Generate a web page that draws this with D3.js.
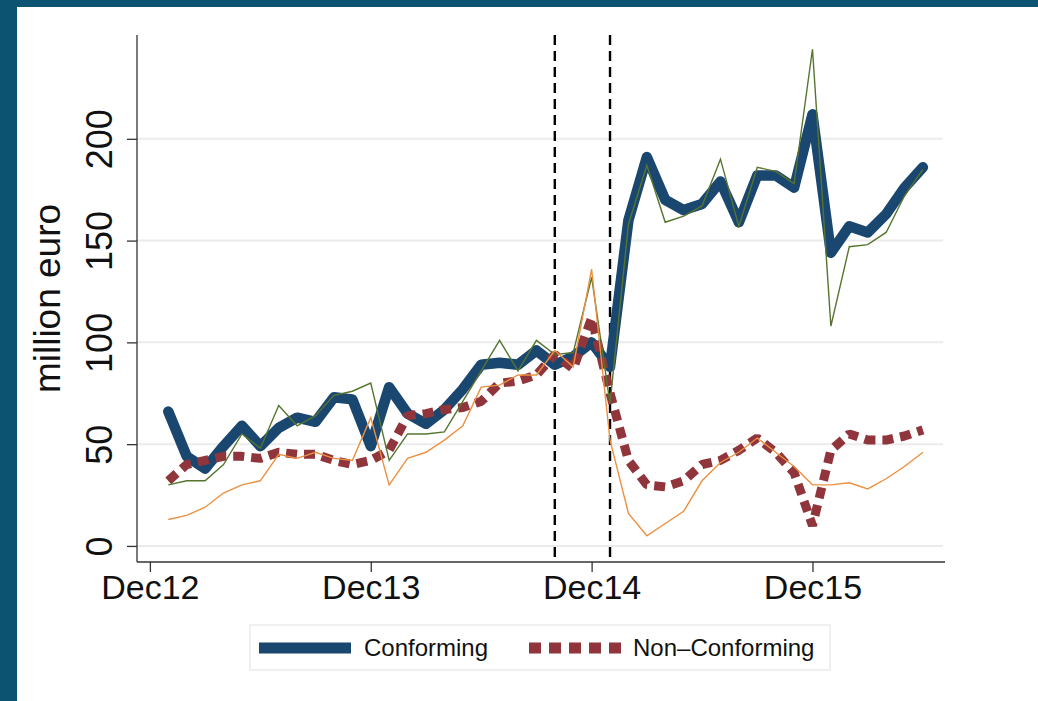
<!DOCTYPE html>
<html>
<head>
<meta charset="utf-8">
<script src="https://cdn.jsdelivr.net/npm/d3@7"></script>
<style>
  html, body { margin: 0; padding: 0; background: #0b5370; }
  svg { display: block; }
  text { font-family: "Liberation Sans", Arial, Helvetica, sans-serif; }
</style>
</head>
<body>
<script>
// Monthly observations, Jan 2013 – Jun 2016
const periods = [
  "2013-01","2013-02","2013-03","2013-04","2013-05","2013-06","2013-07","2013-08","2013-09","2013-10","2013-11","2013-12",
  "2014-01","2014-02","2014-03","2014-04","2014-05","2014-06","2014-07","2014-08","2014-09","2014-10","2014-11","2014-12",
  "2015-01","2015-02","2015-03","2015-04","2015-05","2015-06","2015-07","2015-08","2015-09","2015-10","2015-11","2015-12",
  "2016-01","2016-02","2016-03","2016-04","2016-05","2016-06"
];

// Smoothed series (million euro)
const conforming = [66,44,38,49,59,49,58,63,61,73,72,49,78,65,60,67,77,89,90,89,96,89,93,100,88,160,191,170,165,168,179,159,182,182,176,212,144,157,154,163,176,186];
const nonConforming = [32,40,42,44,44,43,46,45,45,42,40,42,47,64,65,67,68,71,80,81,84,94,87,112,75,42,30,29,32,40,42,47,53,46,36,10,47,55,52,52,54,57];

// Raw monthly series (million euro)
const conformingRaw = [30,32,32,40,55,48,69,59,64,74,76,80,42,55,55,56,71,86,101,86,101,94,95,132,70,158,187,159,162,167,190,157,186,184,178,244,108,147,148,154,172,185];
const nonConformingRaw = [13,15,19,26,30,32,45,43,46,43,42,63,30,43,46,52,59,78,79,84,84,96,88,136,52,16,5,11,17,32,41,46,53,46,39,30,30,31,28,33,39,46];

// Axis ticks and event markers
const xTickPeriods = ["2012-12","2013-12","2014-12","2015-12"];
const xTickLabels = ["Dec12","Dec13","Dec14","Dec15"];
const yTicks = [0, 50, 100, 150, 200];
const eventPeriods = ["2014-10","2015-01"];

const legendLabels = ["Conforming", "Non\u2013Conforming"];

// month index relative to Dec 2012
const monthIndex = p => {
  const [y, m] = p.split("-").map(Number);
  return (y - 2012) * 12 + (m - 12);
};

const W = 1038, H = 701;
const svg = d3.select("body").append("svg").attr("width", W).attr("height", H);

// frame
svg.append("rect").attr("x", 0).attr("y", 0).attr("width", W).attr("height", H).attr("fill", "#0b5370");
svg.append("rect").attr("x", 17).attr("y", 7).attr("width", W - 17).attr("height", H - 7).attr("fill", "#ffffff");

const plot = { left: 137, right: 945, top: 35, bottom: 562 };

const x = d3.scaleLinear().domain([-0.7, 43.2]).range([plot.left, plot.right]);
const y = d3.scaleLinear().domain([-7.9, 251]).range([plot.bottom, plot.top]);

// gridlines
svg.append("g").selectAll("line").data(yTicks).join("line")
  .attr("x1", plot.left).attr("x2", plot.right - 2)
  .attr("y1", d => y(d)).attr("y2", d => y(d))
  .attr("stroke", "#ebebeb").attr("stroke-width", 2);

// y axis
const yAxis = svg.append("g").attr("transform", `translate(${plot.left},0)`)
  .call(d3.axisLeft(y).tickValues(yTicks).tickSize(10).tickSizeOuter(0).tickPadding(0));
yAxis.select(".domain").attr("stroke", "#333").attr("stroke-width", 1.3)
  .attr("d", `M0,${plot.top}V${plot.bottom}`);
yAxis.selectAll(".tick line").attr("stroke", "#333").attr("stroke-width", 1.3);
yAxis.selectAll(".tick text")
  .attr("font-size", 36).attr("fill", "#111")
  .attr("text-anchor", "middle")
  .attr("x", null).attr("dy", null)
  .attr("transform", "translate(-25,0) rotate(-90)");

// x axis
const xAxis = svg.append("g").attr("transform", `translate(0,${plot.bottom})`)
  .call(d3.axisBottom(x).tickValues(xTickPeriods.map(monthIndex))
    .tickFormat((d, i) => xTickLabels[i]).tickSize(10).tickSizeOuter(0).tickPadding(0));
xAxis.select(".domain").attr("stroke", "#333").attr("stroke-width", 1.3)
  .attr("d", `M${plot.left},0H${plot.right}`);
xAxis.selectAll(".tick line").attr("stroke", "#333").attr("stroke-width", 1.3);
xAxis.selectAll(".tick text").attr("font-size", 34).attr("fill", "#111").attr("dy", "0.8em");

// y title
svg.append("text")
  .attr("transform", `translate(60,${(plot.top + plot.bottom) / 2}) rotate(-90)`)
  .attr("text-anchor", "middle").attr("font-size", 37).attr("fill", "#111")
  .text("million euro");

// event markers
svg.append("g").selectAll("line").data(eventPeriods).join("line")
  .attr("x1", d => x(monthIndex(d))).attr("x2", d => x(monthIndex(d)))
  .attr("y1", plot.top).attr("y2", plot.bottom)
  .attr("stroke", "#000").attr("stroke-width", 2.4).attr("stroke-dasharray", "10,6");

const line = vals => d3.line()
  .x((d, i) => x(monthIndex(periods[i])))
  .y(d => y(d))(vals);

// thick smoothed series
svg.append("path").attr("d", line(conforming))
  .attr("fill", "none").attr("stroke", "#1a476f").attr("stroke-width", 10.5)
  .attr("stroke-linejoin", "round").attr("stroke-linecap", "round");
svg.append("path").attr("d", line(nonConforming))
  .attr("fill", "none").attr("stroke", "#90353b").attr("stroke-width", 9)
  .attr("stroke-dasharray", "11,7").attr("stroke-linejoin", "bevel");

// thin raw series
svg.append("path").attr("d", line(conformingRaw))
  .attr("fill", "none").attr("stroke", "#55752f").attr("stroke-width", 1.4)
  .attr("stroke-linejoin", "miter");
svg.append("path").attr("d", line(nonConformingRaw))
  .attr("fill", "none").attr("stroke", "#ec9040").attr("stroke-width", 1.4)
  .attr("stroke-linejoin", "miter");

// legend
const lg = svg.append("g");
lg.append("rect").attr("x", 250).attr("y", 625).attr("width", 580).attr("height", 45)
  .attr("fill", "#fff").attr("stroke", "#e6e6e6").attr("stroke-width", 1.2);
lg.append("line").attr("x1", 259).attr("x2", 351).attr("y1", 648).attr("y2", 648)
  .attr("stroke", "#1a476f").attr("stroke-width", 11);
lg.append("text").attr("x", 364).attr("y", 656).attr("font-size", 24).attr("fill", "#111")
  .text(legendLabels[0]);
lg.append("line").attr("x1", 529).attr("x2", 621).attr("y1", 648).attr("y2", 648)
  .attr("stroke", "#90353b").attr("stroke-width", 11).attr("stroke-dasharray", "12,8");
lg.append("text").attr("x", 633).attr("y", 656).attr("font-size", 24).attr("fill", "#111")
  .text(legendLabels[1]);
</script>
</body>
</html>
